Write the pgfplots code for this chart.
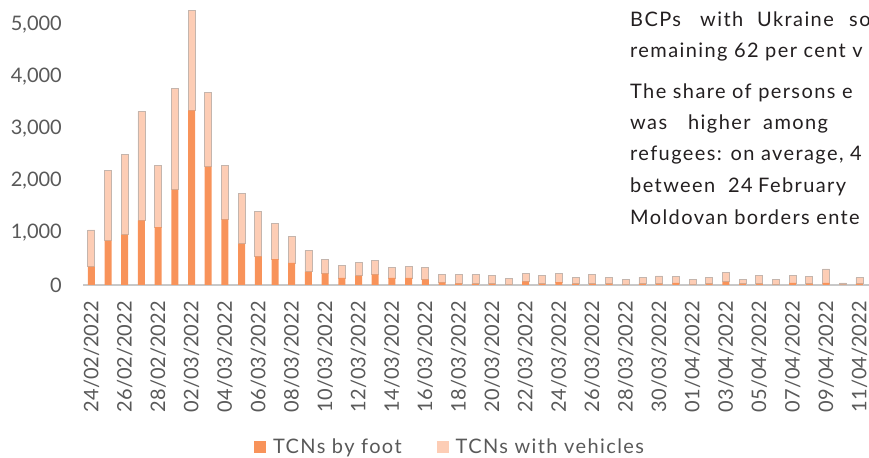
\documentclass[border=0pt]{standalone}
\usepackage{fontspec}
\setmainfont{Lato}
\newfontfamily\gillfont[LetterSpace=7]{Lato}
\usepackage{pgfplots}
\pgfplotsset{compat=1.18}
\usepackage{pgfplotstable}
\definecolor{foot}{HTML}{F8935A}
\definecolor{veh}{HTML}{FDCDB5}
\definecolor{vehedge}{HTML}{C4B5AD}
\definecolor{tickc}{HTML}{595959}
\definecolor{para}{HTML}{231F20}
\definecolor{basec}{HTML}{C8C8C8}

\pgfplotstableread{
i foot veh
0 352 706
1 853 1352
2 968 1551
3 1244 2096
4 1115 1186
5 1833 1949
6 3359 1923
7 2276 1429
8 1263 1038
9 795 968
10 551 866
11 500 686
12 425 510
13 256 411
14 225 269
15 135 237
16 179 250
17 205 270
18 135 198
19 135 217
20 109 224
21 50 145
22 30 165
23 25 175
24 25 155
25 8 112
26 72 146
27 25 155
28 55 163
29 25 122
30 25 173
31 25 122
32 8 95
33 25 122
34 25 150
35 40 126
36 8 104
37 25 112
38 65 178
39 25 87
40 25 165
41 8 104
42 40 150
43 25 141
44 40 268
45 5 34
46 25 112
}\datatab

\begin{document}
\begin{tikzpicture}
\begin{axis}[
  at={(83bp,173bp)}, anchor=south west,
  scale only axis, width=786bp, height=285bp,
  xmin=-0.5, xmax=46.57, ymin=0, ymax=5481,
  ybar stacked, bar width=7bp,
  axis x line*=bottom, axis y line*=left,
  x axis line style={draw=basec, line width=2.5bp, -},
  y axis line style={draw=none},
  major tick length=0pt,
  ytick={0,1000,...,5000},
  /pgf/number format/1000 sep={,},
  /pgf/number format/assume math mode=true,
  yticklabel style={font=\fontsize{20bp}{24bp}\selectfont, text=tickc, anchor=east, inner sep=0pt},
  yticklabel shift=21bp,
  xtick={0,2,...,46},
  xticklabels={24/02/2022,26/02/2022,28/02/2022,02/03/2022,04/03/2022,06/03/2022,08/03/2022,10/03/2022,12/03/2022,14/03/2022,16/03/2022,18/03/2022,20/03/2022,22/03/2022,24/03/2022,26/03/2022,28/03/2022,30/03/2022,01/04/2022,03/04/2022,05/04/2022,07/04/2022,09/04/2022,11/04/2022},
  xticklabel style={rotate=90, anchor=east, inner sep=0pt, font=\fontsize{20bp}{24bp}\selectfont, text=tickc},
  xticklabel shift=16bp,
  legend columns=2,
  legend style={at={(axis description cs:0.4657,-0.569)}, anchor=center, draw=none, fill=none,
    inner sep=0pt, nodes={inner sep=0pt},
    font=\gillfont\fontsize{20bp}{24bp}\selectfont, text=tickc,
    /tikz/every odd column/.append style={column sep=7bp},
    /tikz/every even column/.append style={column sep=35bp}},
  legend image code/.code={\draw[#1,draw=none] (0bp,-6bp) rectangle (12bp,6bp);},
]
\addplot[fill=foot, draw=none] table[x=i, y=foot] {\datatab};
\addlegendentry{TCNs by foot}
\addplot[fill=veh, draw=vehedge, line width=0.8bp] table[x=i, y=veh] {\datatab};
\addlegendentry{TCNs with vehicles}
\end{axis}
\begin{scope}[every node/.style={anchor=base west, inner sep=0pt, text=para, font=\gillfont\fontsize{20bp}{24bp}\selectfont}]
\node at (630bp,431bp) {BCPs};
\node at (700bp,431bp) {with};
\node at (757bp,431bp) {Ukraine};
\node at (849bp,431bp) {so};
\node at (630bp,400bp) {remaining 62 per cent v};
\node at (630bp,359bp) {The share of persons e};
\node at (630bp,328bp) {was};
\node at (688bp,328bp) {higher};
\node at (763bp,328bp) {among};
\node at (630bp,297bp) {refugees: on average, 4};
\node at (630bp,265bp) {between};
\node at (728bp,265bp) {24};
\node at (758bp,265bp) {February};
\node at (630bp,233bp) {Moldovan borders ente};
\end{scope}
\pgfresetboundingbox
\useasboundingbox (0,0) rectangle (869bp,458bp);
\end{tikzpicture}
\end{document}
